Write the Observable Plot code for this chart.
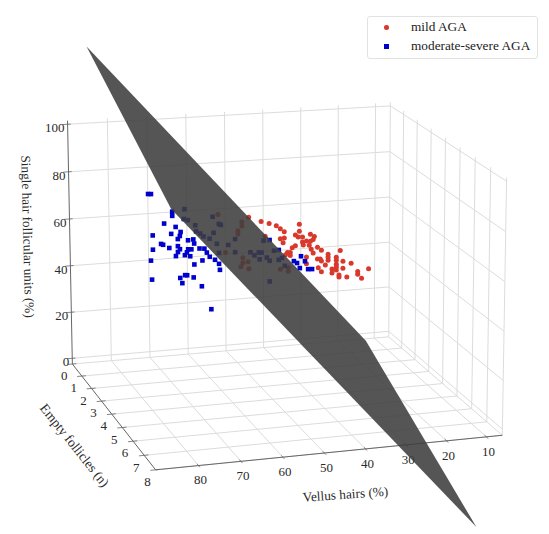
<!DOCTYPE html>
<html>
<head>
<meta charset="utf-8">
<script src="https://cdn.jsdelivr.net/npm/d3@7"></script>
<script src="https://cdn.jsdelivr.net/npm/@observablehq/plot@0.6"></script>
<style>
html,body{margin:0;padding:0;background:#fff;}
#wrap{position:relative;width:549px;height:534px;overflow:hidden;}
#legend{position:absolute;left:367px;top:16px;width:169px;height:41px;border:1px solid #e2e2e2;border-radius:3px;background:#fff;font:13.3px "Liberation Serif",serif;color:#222;box-sizing:content-box;}
#legend .row{position:absolute;left:43px;white-space:nowrap;line-height:16px;}
#legend .k{position:absolute;}
svg text{font-family:"Liberation Serif",serif;}
</style>
</head>
<body>
<div id="wrap">
<div id="chart"></div>
<div id="legend">
  <span class="k" style="left:16px;top:8px;width:4.5px;height:4.5px;border-radius:50%;background:#d9382c"></span>
  <span class="row" style="top:2px">mild AGA</span>
  <span class="k" style="left:16px;top:27px;width:4.5px;height:4.5px;background:#0000cc"></span>
  <span class="row" style="top:21px">moderate-severe AGA</span>
</div>
</div>
<script>
// Axis ticks
const vellusTicks = [80,70,60,50,40,30,20,10];
const emptyTicks  = [0,1,2,3,4,5,6,7,8];
const singleTicks = [0,20,40,60,80,100];
const vellusRange = [90,6];
const emptyRange  = [0,8];
const singleRange = [-2.5,101.5];

// Mild AGA: vellus hairs (%), single hair follicular units (%)
const mildVellus = [62.7,56.8,56.8,57.8,57.8,60.9,56.6,55.3,56.6,57.1,55.1,51.0,47.2,45.2,45.2,
55.1,52.0,50.0,48.2,47.2,46.2,42.4,42.4,43.4,47.2,46.2,46.5,42.7,41.6,39.6,38.6,38.9,41.6,40.6,39.6,43.4,44.2,41.4,39.9,39.4,37.8,36.8,45.4,44.7,44.7,45.9,40.6,38.9,37.8,37.1,36.8,35.1,35.1,35.1,32.0,35.8,33.0,33.0,33.0,31.3,29.2,33.0,31.3,34.1,34.1,33.0,37.6,36.8,40.6,32.3,32.3,30.3,27.5,27.5,26.5,24.7];
const mildSingle = [75.0,71.2,69.6,67.7,66.4,59.1,56.4,54.6,54.4,52.8,51.7,64.6,50.5,51.0,49.4,
73.0,70.9,69.8,68.7,67.3,65.9,68.6,65.7,64.3,63.2,63.4,61.4,63.3,63.2,64.1,63.1,61.9,61.1,61.4,61.2,59.8,59.1,59.9,59.6,57.9,58.5,57.1,57.2,57.1,55.9,56.4,54.8,56.2,53.6,53.5,52.6,55.2,54.0,52.7,56.4,50.8,53.7,52.5,50.8,51.8,50.7,49.6,48.9,48.9,47.3,48.4,49.9,48.1,52.0,46.2,45.4,45.1,47.1,45.9,44.1,47.9];

// Moderate-severe AGA
const severeVellus = [80.1,79.4,74.3,74.3,76.3,73.5,72.3,74.6,72.5,79.1,73.0,70.5,69.2,69.0,77.1,76.6,73.0,75.1,79.1,72.5,73.0,70.5,69.7,70.8,67.7,66.5,65.9,73.5,71.3,70.0,65.2,67.0,79.6,63.9,62.9,69.0,62.7,79.4,72.5,72.0,71.3,70.8,69.2,67.2,64.9,
71.3,71.5,70.5,68.7,68.5,67.5,66.7,65.2,64.4,62.9,62.4,64.2,63.4,60.6,58.9,58.9,62.9,55.1,54.1,53.0,52.3,51.8,50.3,49.2,48.0,51.0,52.8,50.3,48.0,47.2,46.5,50.3,
42.4,41.4,43.4,44.2,42.7,40.6,39.6];
const severeSingle = [85.8,85.7,78.0,76.3,73.4,71.7,69.5,69.0,67.9,68.9,66.7,65.9,66.1,64.4,65.2,64.8,63.8,63.3,63.1,62.5,61.4,62.2,62.1,61.0,62.2,62.0,60.3,59.8,59.9,59.3,58.5,57.2,58.7,57.1,55.3,55.8,52.8,50.9,50.7,48.5,51.7,51.6,50.5,46.6,36.8,
78.7,74.7,74.1,71.8,69.3,68.3,67.0,65.9,74.8,71.7,71.2,68.2,63.6,62.8,65.0,59.6,59.8,59.1,57.7,58.8,58.6,63.5,63.6,59.0,59.2,56.4,55.9,55.0,55.1,55.8,52.4,46.4,
55.9,53.7,53.2,54.1,51.0,50.3,50.2];
// Depth of a point cannot be read from the flat picture: estimated mid-range per group.
const mildEmpty = 3.75;
const severeEmpty = 3.88;

// Fitted plane corners: vellus, empty follicles, single hair units
const planeVellus = [84.9,12.3,12.2,85.7];
const planeEmpty  = [0,0,8,8];
const planeSingle = [132,-3.4,-39.5,98];

// Camera calibration: corners of the box, and where the reference shows them
const boxValues = [[90,0,-2.5],[90,8,-2.5],[6,8,-2.5],[6,0,-2.5],[90,0,101.5],[6,0,101.5],[6,8,101.5]];
const boxPixels = [[72,364],[155,469],[502,435],[388,336],[67,120],[390,102],[506,177]];

const norm = ([v,e,s]) => [(90-v)/84, e/8, (s+2.5)/104];
function solve(A,b){
  const n=b.length, M=A.map((r,i)=>[...r,b[i]]);
  for(let i=0;i<n;i++){
    let p=i; for(let k=i+1;k<n;k++) if(Math.abs(M[k][i])>Math.abs(M[p][i])) p=k;
    [M[i],M[p]]=[M[p],M[i]];
    for(let k=i+1;k<n;k++){const f=M[k][i]/M[i][i]; for(let j=i;j<=n;j++) M[k][j]-=f*M[i][j];}
  }
  const x=new Array(n).fill(0);
  for(let i=n-1;i>=0;i--){let s=M[i][n]; for(let j=i+1;j<n;j++) s-=M[i][j]*x[j]; x[i]=s/M[i][i];}
  return x;
}
const cam=(()=>{
  const R=[],B=[];
  boxValues.forEach((val,i)=>{
    const [X,Y,Z]=norm(val),[u,v]=boxPixels[i];
    R.push([X,Y,Z,1,0,0,0,0,-u*X,-u*Y,-u*Z]);B.push(u);
    R.push([0,0,0,0,X,Y,Z,1,-v*X,-v*Y,-v*Z]);B.push(v);
  });
  const N=Array.from({length:11},(_,i)=>Array.from({length:11},(_,j)=>d3.sum(R,r=>r[i]*r[j])));
  const c=Array.from({length:11},(_,i)=>d3.sum(R,(r,k)=>r[i]*B[k]));
  return solve(N,c);
})();
function proj(p){
  const [X,Y,Z]=norm(p), w=cam[8]*X+cam[9]*Y+cam[10]*Z+1;
  return [(cam[0]*X+cam[1]*Y+cam[2]*Z+cam[3])/w,(cam[4]*X+cam[5]*Y+cam[6]*Z+cam[7])/w];
}

const [V0,V1]=vellusRange,[E0,E1]=emptyRange,[S0,S1]=singleRange;
const grid=[];
for(const v of vellusTicks){
  grid.push([[v,E0,S0],[v,E1,S0]]);      // floor
  grid.push([[v,E0,S0],[v,E0,S1]]);      // back wall
}
for(const e of emptyTicks){
  grid.push([[V0,e,S0],[V1,e,S0]]);      // floor
  grid.push([[V1,e,S0],[V1,e,S1]]);      // right wall
}
for(const s of singleTicks){
  grid.push([[V0,E0,s],[V1,E0,s]]);
  grid.push([[V1,E0,s],[V1,E1,s]]);
}
grid.push([[V1,E0,S0],[V1,E1,S0]]);
const axes=[
  [[V0,E0,S0],[V0,E0,S1]],
  [[V0,E0,S0],[V0,E1,S0]],
  [[V0,E1,S0],[V1,E1,S0]]
];
const ticks=[
  ...singleTicks.map(s=>[[V0+1.3,E0,s],[V0-0.8,E0,s]]),
  ...emptyTicks.map(e=>[[V0+1.2,e,S0],[V0-1,e,S0]]),
  ...vellusTicks.map(v=>[[v,E1+0.12,S0],[v,E1-0.12,S0]])
];
const link=(data,o)=>Plot.link(data,{
  x1:d=>proj(d[0])[0],y1:d=>proj(d[0])[1],x2:d=>proj(d[1])[0],y2:d=>proj(d[1])[1],...o});

const mild=mildVellus.map((v,i)=>[v,mildEmpty,mildSingle[i]]);
const severe=severeVellus.map((v,i)=>[v,severeEmpty,severeSingle[i]]);
const plane=planeVellus.map((v,i)=>[v,planeEmpty[i],planeSingle[i]]);
const tickText={fontSize:13,fill:"#2a2a2a"};
const titleText={frameAnchor:"top-left",textAnchor:"middle",lineAnchor:"middle",fill:"#2a2a2a"};

const chart=Plot.plot({
  width:549,height:534,margin:0,
  x:{domain:[0,549],range:[0,549],axis:null},
  y:{domain:[0,534],range:[0,534],axis:null},
  style:{background:"#fff"},
  marks:[
    link(grid,{stroke:"#dcdcdc",strokeWidth:1}),
    link(axes,{stroke:"#666",strokeWidth:1}),
    link(ticks,{stroke:"#666",strokeWidth:0.8}),
    Plot.text(singleTicks,{x:s=>proj([V0,E0,s])[0],y:s=>proj([V0,E0,s])[1],text:s=>String(s),textAnchor:"end",dx:-3,dy:4,...tickText}),
    Plot.text(emptyTicks,{x:e=>proj([V0,e,S0])[0],y:e=>proj([V0,e,S0])[1],text:e=>String(e),dx:-8,dy:12,...tickText}),
    Plot.text(vellusTicks,{x:v=>proj([v,E1,S0])[0],y:v=>proj([v,E1,S0])[1],text:v=>String(v),dx:2,dy:14.5,...tickText}),
    Plot.text(["Single hair follicular units (%)"],{...titleText,dx:27,dy:236,rotate:88.6,fontSize:13.3}),
    Plot.text(["Empty follicles (n)"],{...titleText,dx:74,dy:445,rotate:51.5,fontSize:13.5}),
    Plot.text(["Vellus hairs (%)"],{...titleText,dx:345,dy:494,rotate:-4,fontSize:13.3}),
    Plot.dot(mild,{x:d=>proj(d)[0],y:d=>proj(d)[1],r:2.5,fill:"#d9382c",symbol:"circle"}),
    Plot.dot(severe,{x:d=>proj(d)[0],y:d=>proj(d)[1],r:2.6,fill:"#0000cc",symbol:"square"}),
    Plot.line(plane,{x:d=>proj(d)[0],y:d=>proj(d)[1],fill:"#3e3e3e",fillOpacity:0.88,stroke:"none",curve:"linear-closed"})
  ]
});
document.getElementById("chart").appendChild(chart);
</script>
</body>
</html>
